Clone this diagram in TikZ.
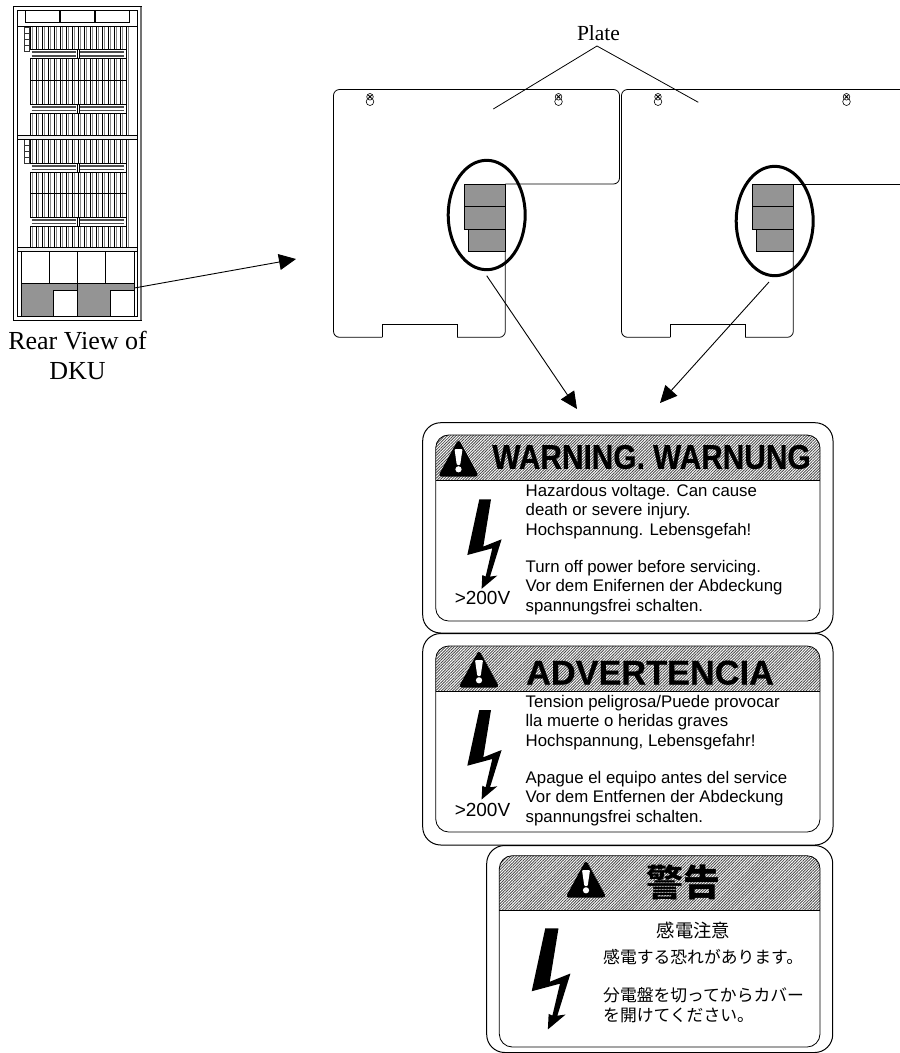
\documentclass[tikz,border=0pt]{standalone}
\usepackage{fontspec}
\setmainfont{Liberation Serif}
\setsansfont{Liberation Sans}
\newfontfamily\cjk{Noto Sans CJK JP}
\newfontfamily\hvy{Liberation Sans}[FakeBold=0.5,UprightFont=* Bold]
\usetikzlibrary{patterns.meta,arrows.meta}
\tikzset{
  thinl/.style={draw=black,line width=0.8pt},
  conn/.style={draw=black,line width=0.9pt,-{Triangle[length=17pt,width=16pt]}},
  oval/.style={draw=black,line width=3pt},
  gbox/.style={draw=black,fill=black!42,line width=0.9pt},
  lab/.style={font=\sffamily\fontsize{16.8}{19.5}\selectfont,align=left,anchor=north west,inner sep=0pt},
  v200/.style={font=\sffamily\fontsize{19}{19}\selectfont,inner sep=0pt},
  serif/.style={font=\rmfamily\fontsize{26}{30}\selectfont,align=center,inner sep=0pt},
  hatch/.style={pattern={Lines[angle=45,distance=2pt,line width=0.85pt]},pattern color=black!70},
  head/.style={font=\hvy\fontsize{34.3}{34}\selectfont,inner sep=0pt},
  jp/.style={font=\cjk\fontsize{16.8}{17}\selectfont,inner sep=0pt,anchor=west},
}
\newcommand{\lightbolt}[3]{\fill[black,shift={(#1,#2)},scale=#3] (12,0) -- (23.7,0) -- (16,47.3) -- (34.3,40) -- (22.7,77.3) -- (30,76.3) -- (14.3,89.5) -- (15,75.7) -- (18.3,77.3) -- (25,49) -- (0,55.7) -- cycle;}
\newcommand{\wtri}[2]{\begin{scope}[shift={(#1,#2)}]
 \fill[black,rounded corners=3.5pt] (-0.5,35.5) -- (20,-2) -- (40.5,35.5) -- cycle;
 \fill[white,rounded corners=1pt] (16,8) -- (24,8) -- (21.7,24) -- (18.3,24) -- cycle;
 \fill[white] (20,28.3) circle (3.1);
\end{scope}}
% outer box: x0 ytop x1 ybot ; inner: x0 ytop x1 ysplit ybot
\newcommand{\tag}[9]{%
 \draw[line width=1pt,rounded corners=18pt] (#1,#2) rectangle (#3,#4);
 \begin{scope}\clip (#5-1,#6-1) rectangle (#7+1,#8);
  \fill[hatch,rounded corners=13pt] (#5,#6) rectangle (#7,#9);
 \end{scope}
 \draw[line width=0.8pt,rounded corners=13pt] (#5,#6) rectangle (#7,#9);
 \draw[line width=0.8pt] (#5,#8) -- (#7,#8);}
\begin{document}
\begin{tikzpicture}[x=1pt,y=-1pt]
\useasboundingbox (0,0) rectangle (900,1053);
% ---- cabinet
\draw[line width=0.9pt] (13.3,6.2) rectangle (141.5,320);
\draw[line width=1.1pt,black!55] (141,7) -- (141,320);
\draw[line width=0.7pt] (17.3,10.7) -- (17.3,316.2) -- (137.3,316.2) -- (137.3,10.7) -- cycle;
\draw[line width=0.8pt] (25.3,10.7) rectangle (129.7,22.7);
\draw[line width=1.1pt] (60,10.7) -- (60,22.7) (95,10.7) -- (95,22.7);
\draw[line width=0.8pt] (17.3,26) -- (137.3,26);
% blades
\foreach \top/\bot in {27/135,139.3/247.3}{
  \foreach \x in {30,36,...,126}{
    \draw[line width=0.8pt,black!45] (\x+2,\top) -- (\x+2,\bot);
    \draw[line width=0.7pt] (\x,\top) -- (\x,\bot);}
}
\foreach \y in {80.5,193.5}{\draw[line width=0.6pt] (30,\y) -- (126,\y);}
% rails
\foreach \y in {49.5,104,163,217}{
 \fill[white] (30,\y) rectangle (126,\y+9);
 \draw[line width=0.6pt] (30,\y) -- (126,\y) (30,\y+9) -- (126,\y+9);
 \foreach \a/\b in {31.5/76,80/124}{
  \draw[line width=1.8pt,black!70] (\a,\y+2.6) -- (\b,\y+2.6) (\a,\y+6.4) -- (\b,\y+6.4);
 }
 \draw[line width=0.5pt] (77.3,\y) -- (77.3,\y+9) (78.8,\y) -- (78.8,\y+9);
}
\foreach \y in {27,139.5}{\draw[line width=0.5pt,black!80] (24,\y) rectangle (29.3,\y+6) (24,\y+6) rectangle (29.3,\y+12) (24,\y+12) rectangle (29.3,\y+18) (24,\y+18) rectangle (29.3,\y+24);}
\foreach \y in {135,247.3}{\draw[line width=0.7pt,fill=black!5] (17.3,\y) rectangle (137.3,\y+4.3);}
% lower bay
\draw[line width=0.7pt] (21,251.6) -- (21,316.2) (134.3,251.6) -- (134.3,316.2);
\draw[line width=0.8pt] (49.3,251.6) -- (49.3,283.5) (77.3,251.6) -- (77.3,283.5) (105.7,251.6) -- (105.7,283.5);
\draw[gbox] (21,283.5) rectangle (134.3,316);
\draw[line width=0.9pt,fill=white] (53.3,290.7) rectangle (77.3,316.2);
\draw[line width=0.9pt,fill=white] (110,290.7) rectangle (134.3,316.2);
\draw[line width=0.9pt] (77.3,283.5) -- (77.3,316);
\coordinate (cabOut) at (134.3,288);
\node[serif] (rear) at (77.5,355) {Rear View of\\DKU};
\coordinate (arrTip) at (296,259);
\draw[conn] (cabOut) -- (arrTip);
% ---- plates
\foreach \dx/\closed/\oy in {0/1/215,288/0/221}{
\begin{scope}[shift={(\dx,0)}]
 \ifnum\closed=1
 \draw[thinl,rounded corners=6pt] (382.3,337.3) -- (333.5,337.3) -- (333.5,89.5) -- (619.5,89.5) -- (619.5,184) -- (505.3,184);
 \else
 \draw[thinl,rounded corners=6pt] (382.3,337.3) -- (333.5,337.3) -- (333.5,89.5) -- (612,89.5);
 \draw[thinl] (505.3,184) -- (612,184);
 \fi
 \draw[thinl,rounded corners=6pt] (505.3,184) -- (505.3,337.3) -- (457,337.3);
 \draw[thinl] (382.3,337.3) -- (382.3,324) -- (457,324) -- (457,337.3);
 \foreach \x in {370,558.5}{
   \draw[line width=0.6pt,fill=white] (\x,101.7) circle (3.8);
   \draw[line width=0.6pt,fill=white] (\x,96.8) circle (3.3);
   \draw[line width=0.9pt] (\x-1.8,95) -- (\x+1.8,98.6) (\x+1.8,95) -- (\x-1.8,98.6);
 }
 \draw[gbox] (464.3,184) rectangle (505.3,206.7);
 \draw[gbox] (464.3,206.7) rectangle (505.3,229);
 \draw[gbox] (468.3,229) rectangle (505.3,251.7);
 \draw[oval] (486.7,\oy) ellipse (38.5 and 54.7);
\end{scope}}
% ---- plate label and leaders
\node[font=\rmfamily\fontsize{21.5}{24}\selectfont,inner sep=0pt] (plate) at (598.5,33) {Plate};
\coordinate (l1) at (493.3,109);
\coordinate (l2) at (698.3,102.3);
\coordinate (l0) at (597,46);
\draw[line width=0.8pt] (l1) -- (l0) -- (l2);
\coordinate (a1s) at (486.7,275.7);
\coordinate (a1e) at (577,409);
\coordinate (a2s) at (769,282);
\coordinate (a2e) at (660,403);
\draw[conn] (a1s) -- (a1e);
\draw[conn] (a2s) -- (a2e);
% ---- label 1
\tag{422.7}{422.7}{833}{633}{435.7}{435}{820}{480}{621}
\wtri{438.5}{441}
\node[head,xscale=0.87] (t1) at (651.5,457) {WARNING. WARNUNG};
\lightbolt{467.3}{499.3}{1}
\node[v200] (v1) at (482.5,598) {>200V};
\node[lab] (b1) at (525.5,484) {Hazardous voltage. Can cause\\death or severe injury.\\Hochspannung. Lebensgefah!\\[17.2pt]Turn off power before servicing.\\Vor dem Enifernen der Abdeckung\\spannungsfrei schalten.};
% ---- label 2
\tag{422.7}{633.5}{833}{845}{435.7}{646}{820}{691}{832}
\wtri{459}{652}
\node[head] (t2) at (650,672.7) {ADVERTENCIA};
\lightbolt{467.3}{710}{1}
\node[v200] (v2) at (482.5,810) {>200V};
\node[lab] (b2) at (525.5,695) {Tension peligrosa/Puede provocar\\lla muerte o heridas graves\\Hochspannung, Lebensgefahr!\\[17.2pt]Apague el equipo antes del service\\Vor dem Entfernen der Abdeckung\\spannungsfrei schalten.};
% ---- label 3
\tag{486.7}{845.5}{832.7}{1052.5}{499.3}{855.7}{820}{910.7}{1047}
\wtri{566}{862}
\node[font=\cjk\bfseries\fontsize{37}{37}\selectfont,inner sep=0pt] (t3) at (683.5,882) {警告};
\lightbolt{531.7}{928.3}{1.13}
\node[font=\cjk\fontsize{18.3}{18.3}\selectfont,inner sep=0pt] (c0) at (693.5,930) {感電注意};
\node[jp] (c1) at (603,957) {感電する恐れがあります。};
\node[jp] (c2) at (603,995) {分電盤を切ってからカバー};
\node[jp] (c3) at (603,1015) {を開けてください。};
\end{tikzpicture}
\end{document}
